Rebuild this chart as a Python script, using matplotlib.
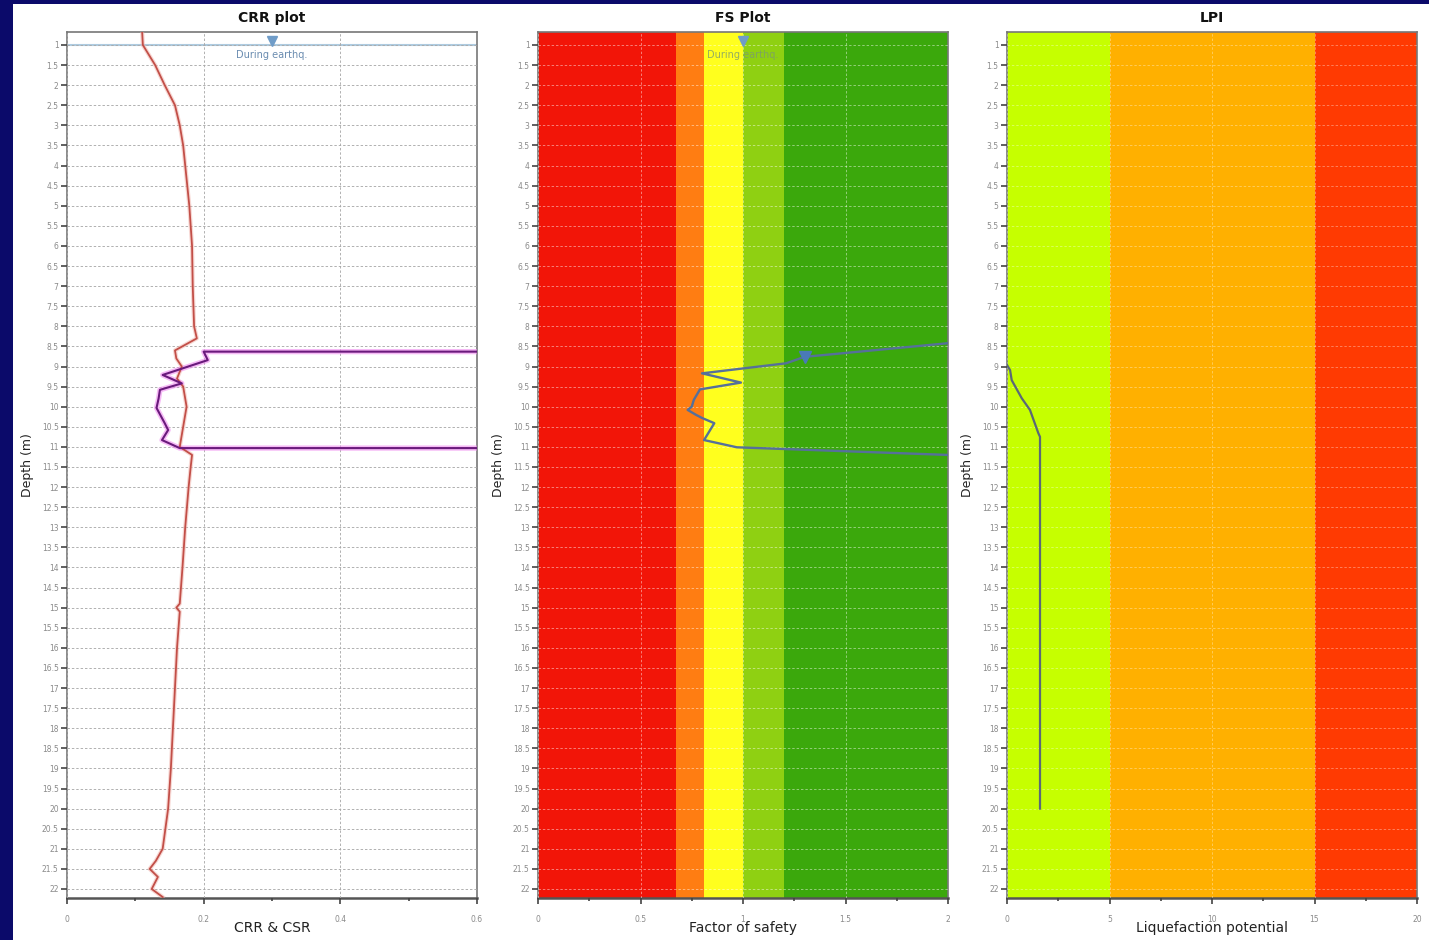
import matplotlib
matplotlib.use("Agg")
import matplotlib.pyplot as plt
from matplotlib.patches import Rectangle
from matplotlib.ticker import MultipleLocator

# ---------------- data ----------------
depth_ticks = [1 + 0.5 * i for i in range(43)]
depth_labels = [f"{d:g}" for d in depth_ticks]

crr_depth = [0.68, 1.0, 1.5, 2.0, 2.5, 3.0, 3.5, 4.0, 5.0, 6.0, 7.0, 8.0, 8.3, 8.6,
             8.8, 9.0, 9.3, 9.5, 10.0, 10.5, 11.0, 11.2, 11.5, 12.0, 13.0, 14.0,
             14.9, 15.0, 15.1, 16.0, 17.0, 18.0, 19.0, 20.0, 21.0, 21.3, 21.5,
             21.7, 22.0, 22.2]
crr = [0.110, 0.111, 0.129, 0.143, 0.158, 0.165, 0.170, 0.173, 0.179, 0.183,
       0.184, 0.186, 0.190, 0.158, 0.160, 0.168, 0.161, 0.170, 0.175, 0.170,
       0.165, 0.183, 0.181, 0.178, 0.173, 0.169, 0.165, 0.160, 0.165, 0.161,
       0.158, 0.155, 0.152, 0.148, 0.140, 0.130, 0.121, 0.133, 0.124, 0.140]

csr_depth = [8.63, 8.63, 8.84, 9.21, 9.42, 9.58, 9.8, 10.03, 10.41, 10.58, 10.83, 11.03, 11.03]
csr = [0.60, 0.200, 0.206, 0.140, 0.168, 0.136, 0.134, 0.131, 0.143, 0.148, 0.139, 0.165, 0.60]

fs_depth = [8.42, 8.76, 8.92, 9.17, 9.40, 9.57, 9.83, 10.0, 10.08, 10.2, 10.28, 10.41, 10.83, 11.01, 11.2]
fs = [2.0, 1.30, 1.21, 0.80, 0.99, 0.79, 0.76, 0.75, 0.73, 0.77, 0.80, 0.86, 0.81, 0.97, 2.0]
fs_marker_depth = [8.76]
fs_marker = [1.30]

lpi_depth = [8.96, 9.09, 9.34, 9.79, 10.08, 10.66, 10.75, 20.0]
lpi = [0.0, 0.15, 0.23, 0.72, 1.12, 1.53, 1.61, 1.61]

fs_band_edges = [0, 0.675, 0.81, 1.0, 1.2, 2.0]
fs_band_colors = ["#f21508", "#ff7d12", "#ffff1e", "#8fd012", "#3ba80c"]
lpi_band_edges = [0, 5, 15, 20]
lpi_band_colors = ["#c6ff00", "#ffb000", "#ff3a02"]

water_depth = 1.0

# ---------------- figure ----------------
W, H = 1429, 940
fig = plt.figure(figsize=(W / 100, H / 100), dpi=100)
fig.patch.set_facecolor("white")
navy = "#0b0a6a"
fig.add_artist(Rectangle((0, 0), 13 / W, 1, transform=fig.transFigure,
                         facecolor=navy, edgecolor="none", zorder=-5))
fig.add_artist(Rectangle((0, 1 - 4 / H), 1, 4 / H, transform=fig.transFigure,
                         facecolor=navy, edgecolor="none", zorder=-5))

top_px, bot_px = 32, 898
ax_h = (bot_px - top_px) / H
ax_w = 410 / W
lefts = [67, 538, 1007]
axes = [fig.add_axes([l / W, 1 - bot_px / H, ax_w, ax_h]) for l in lefts]

ylim = (22.224, 0.677)
tick_col = "#8a8a8a"

def style(ax, xlim, xmajor, xlabels, title, xlabel, grid_col, grid_alpha):
    ax.set_xlim(*xlim)
    ax.set_ylim(*ylim)
    ax.set_yticks(depth_ticks)
    ax.set_yticklabels(depth_labels)
    ax.set_xticks(xmajor)
    ax.set_xticklabels(xlabels)
    ax.xaxis.set_minor_locator(MultipleLocator((xmajor[1] - xmajor[0]) / 2))
    ax.tick_params(axis="y", labelsize=5.5, labelcolor=tick_col, length=4,
                   width=1.2, color="#444444", pad=2)
    ax.tick_params(axis="x", labelsize=5.5, labelcolor=tick_col, length=4,
                   width=1.2, color="#444444", pad=8)
    ax.tick_params(axis="x", which="minor", length=2, width=1.2, color="#444444")
    for s in ax.spines.values():
        s.set_color("#777777")
        s.set_linewidth(1.2)
    ax.spines["bottom"].set_linewidth(1.8)
    ax.spines["bottom"].set_color("#555555")
    ax.grid(True, axis="both", which="major", linestyle=(0, (2.5, 2)),
            color=grid_col, alpha=grid_alpha, linewidth=0.7)
    ax.set_axisbelow(False)
    ax.set_title(title, fontsize=10, fontweight="bold", color="#111111", pad=7)
    ax.set_xlabel(xlabel, fontsize=10, color="#222222")
    ax.xaxis.set_label_coords(0.5, -0.027)
    ax.set_ylabel("Depth (m)", fontsize=9, color="#222222")
    ax.yaxis.set_label_coords(-0.08, 0.5)

# ---- CRR plot ----
ax = axes[0]
style(ax, (0, 0.6), [0, 0.2, 0.4, 0.6], ["0", "0.2", "0.4", "0.6"],
      "CRR plot", "CRR & CSR", "#a8a8a8", 0.9)
ax.axhline(water_depth, color="#aecbe0", lw=1.5, zorder=2)
ax.plot([0.3], [water_depth - 0.1], marker="v", color="#6f9cc8", ms=7, zorder=3)
ax.text(0.3, water_depth + 0.25, "During earthq.", ha="center", va="center",
        fontsize=7, color="#6a8cb0")
ax.plot(crr, crr_depth, color="#f0b0a8", lw=3.0, alpha=0.5, zorder=3)
ax.plot(crr, crr_depth, color="#c24f48", lw=1.3, zorder=4)
ax.plot(csr, csr_depth, color="#f08cf0", lw=3.8, alpha=0.6, zorder=3)
ax.plot(csr, csr_depth, color="#6a1a7c", lw=1.5, zorder=4)

# ---- FS plot ----
ax = axes[1]
for i, c in enumerate(fs_band_colors):
    ax.axvspan(fs_band_edges[i], fs_band_edges[i + 1], color=c, zorder=0, lw=0)
style(ax, (0, 2), [0, 0.5, 1, 1.5, 2], ["0", "0.5", "1", "1.5", "2"],
      "FS Plot", "Factor of safety", "#ffffff", 0.45)
ax.plot([1.0], [water_depth - 0.1], marker="v", color="#6f9cc8", ms=7, zorder=3)
ax.text(1.0, water_depth + 0.25, "During earthq.", ha="center", va="center",
        fontsize=7, color="#7a9a70", alpha=0.8)
ax.plot(fs, fs_depth, color="#56709a", lw=1.7, zorder=4)
ax.plot(fs_marker, fs_marker_depth, marker="v", color="#4a7ab8", ms=8, zorder=5, lw=0)

# ---- LPI ----
ax = axes[2]
for i, c in enumerate(lpi_band_colors):
    ax.axvspan(lpi_band_edges[i], lpi_band_edges[i + 1], color=c, zorder=0, lw=0)
style(ax, (0, 20), [0, 5, 10, 15, 20], ["0", "5", "10", "15", "20"],
      "LPI", "Liquefaction potential", "#ffffff", 0.35)
ax.plot(lpi, lpi_depth, color="#5a6878", lw=1.6, zorder=4)

fig.savefig("out.png", dpi=100, facecolor=fig.get_facecolor())
